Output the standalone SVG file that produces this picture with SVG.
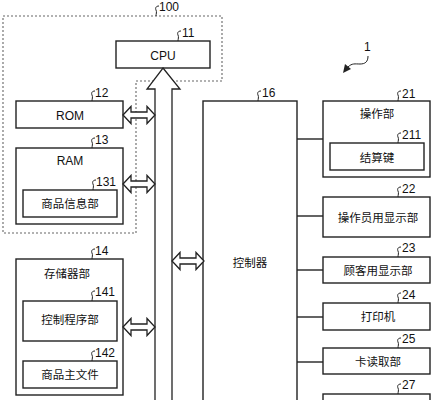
<svg xmlns="http://www.w3.org/2000/svg" width="434" height="400" viewBox="0 0 434 400">
<style>
.box{fill:#fff;stroke:#222;stroke-width:1.4}
.dash{fill:none;stroke:#666;stroke-width:1.1;stroke-dasharray:2 2}
.lat{font-family:"Liberation Sans",Arial,sans-serif;font-size:12px;fill:#111;text-anchor:middle}
.cjk{font-family:"Noto Sans CJK SC","Liberation Sans",sans-serif;font-size:11.5px;fill:#111;text-anchor:middle}
.num{font-family:"Liberation Sans",Arial,sans-serif;font-size:12px;fill:#111}
.sq{fill:none;stroke:#222;stroke-width:1}
.ln{fill:none;stroke:#222;stroke-width:1.4}
.arr{fill:#fff;stroke:#222;stroke-width:1.3;stroke-linejoin:miter}
</style>
<defs>
<path id="dbl" d="M0,0 L8,-8.5 L8,-3 L24,-3 L24,-8.5 L32,0 L24,8.5 L24,3 L8,3 L8,8.5 Z"/>
<path id="sqg" d="M3,-10 c-3,0 -4,2 -3,4 c1,2 0,4 0,6"/>
</defs>
<rect width="434" height="400" fill="#fff"/>

<g id="n100">
<path class="dash" d="M3,16 L222,16 L222,81 L136,81 L136,233 L3,233 Z"/>
<use href="#sqg" class="sq" transform="translate(156,16)"/>
<text class="num" x="159" y="11">100</text>
</g>

<g id="n11">
<rect class="box" x="116" y="41" width="94" height="27"/>
<text class="lat" x="163" y="59.5">CPU</text>
<use href="#sqg" class="sq" transform="translate(178,41)"/>
<text class="num" x="182" y="37">11</text>
</g>

<g id="n12">
<rect class="box" x="16" y="101" width="107" height="27"/>
<text class="lat" x="70" y="119.5">ROM</text>
<use href="#sqg" class="sq" transform="translate(92,101)"/>
<text class="num" x="95" y="97">12</text>
</g>

<g id="n13">
<rect class="box" x="16" y="148" width="107" height="76"/>
<text class="lat" x="70" y="164.5">RAM</text>
<use href="#sqg" class="sq" transform="translate(92,148)"/>
<text class="num" x="95" y="144">13</text>
</g>

<g id="n131">
<rect class="box" x="23" y="190" width="94" height="27"/>
<text class="cjk" x="70" y="208">商品信息部</text>
<use href="#sqg" class="sq" transform="translate(93,190)"/>
<text class="num" x="96" y="186">131</text>
</g>

<g id="n14">
<rect class="box" x="16" y="259" width="107" height="136"/>
<text class="cjk" x="67" y="277.5">存储器部</text>
<use href="#sqg" class="sq" transform="translate(92,259)"/>
<text class="num" x="95" y="255">14</text>
</g>

<g id="n141">
<rect class="box" x="23" y="301" width="94" height="40"/>
<text class="cjk" x="70" y="323.5">控制程序部</text>
<use href="#sqg" class="sq" transform="translate(92,301)"/>
<text class="num" x="95" y="296">141</text>
</g>

<g id="n142">
<rect class="box" x="23" y="361" width="94" height="27"/>
<text class="cjk" x="70" y="379">商品主文件</text>
<use href="#sqg" class="sq" transform="translate(92,361)"/>
<text class="num" x="95" y="357">142</text>
</g>

<g id="n16">
<rect class="box" x="203" y="101" width="94" height="320"/>
<text class="cjk" x="250" y="266.5">控制器</text>
<use href="#sqg" class="sq" transform="translate(258,101)"/>
<text class="num" x="262" y="97">16</text>
</g>

<g id="n21">
<rect class="box" x="323" y="101" width="107" height="76"/>
<text class="cjk" x="377" y="117.5">操作部</text>
<use href="#sqg" class="sq" transform="translate(398,101)"/>
<text class="num" x="402" y="98">21</text>
</g>

<g id="n211">
<rect class="box" x="330" y="143" width="94" height="27"/>
<text class="cjk" x="377" y="161.5">结算键</text>
<use href="#sqg" class="sq" transform="translate(398,143)"/>
<text class="num" x="402" y="139">211</text>
</g>

<g id="n22">
<rect class="box" x="323" y="197" width="107" height="40"/>
<text class="cjk" x="378" y="221.5">操作员用显示部</text>
<use href="#sqg" class="sq" transform="translate(398,197)"/>
<text class="num" x="402" y="193">22</text>
</g>

<g id="n23">
<rect class="box" x="323" y="257" width="107" height="26"/>
<text class="cjk" x="378" y="274.5">顾客用显示部</text>
<use href="#sqg" class="sq" transform="translate(398,257)"/>
<text class="num" x="402" y="252">23</text>
</g>

<g id="n24">
<rect class="box" x="323" y="303" width="107" height="27"/>
<text class="cjk" x="378" y="321">打印机</text>
<use href="#sqg" class="sq" transform="translate(398,303)"/>
<text class="num" x="402" y="299">24</text>
</g>

<g id="n25">
<rect class="box" x="323" y="348" width="107" height="26"/>
<text class="cjk" x="378" y="365.5">卡读取部</text>
<use href="#sqg" class="sq" transform="translate(398,348)"/>
<text class="num" x="402" y="343">25</text>
</g>

<g id="n27">
<rect class="box" x="323" y="394" width="107" height="30"/>
<use href="#sqg" class="sq" transform="translate(398,394)"/>
<text class="num" x="402" y="389">27</text>
</g>

<g id="ref1">
<text class="num" x="364" y="51">1</text>
<path class="sq" d="M368,56 C368,62 365,64 360,64 C355,64 352,63 348,67"/>
<path d="M343,73 L345,64 L351,69 Z" fill="#222"/>
</g>

<g id="connectors">
<path class="arr" d="M163,68 L180,89 L172,89 L172,410 L155,410 L155,89 L147,89 Z"/>
<use href="#dbl" class="arr" transform="translate(123,115)"/>
<use href="#dbl" class="arr" transform="translate(123,184)"/>
<use href="#dbl" class="arr" transform="translate(123,327)"/>
<use href="#dbl" class="arr" transform="translate(172,261)"/>
<line class="ln" x1="297" y1="139" x2="323" y2="139"/>
<line class="ln" x1="297" y1="216" x2="323" y2="216"/>
<line class="ln" x1="297" y1="270" x2="323" y2="270"/>
<line class="ln" x1="297" y1="317" x2="323" y2="317"/>
<line class="ln" x1="297" y1="362" x2="323" y2="362"/>
</g>
</svg>
